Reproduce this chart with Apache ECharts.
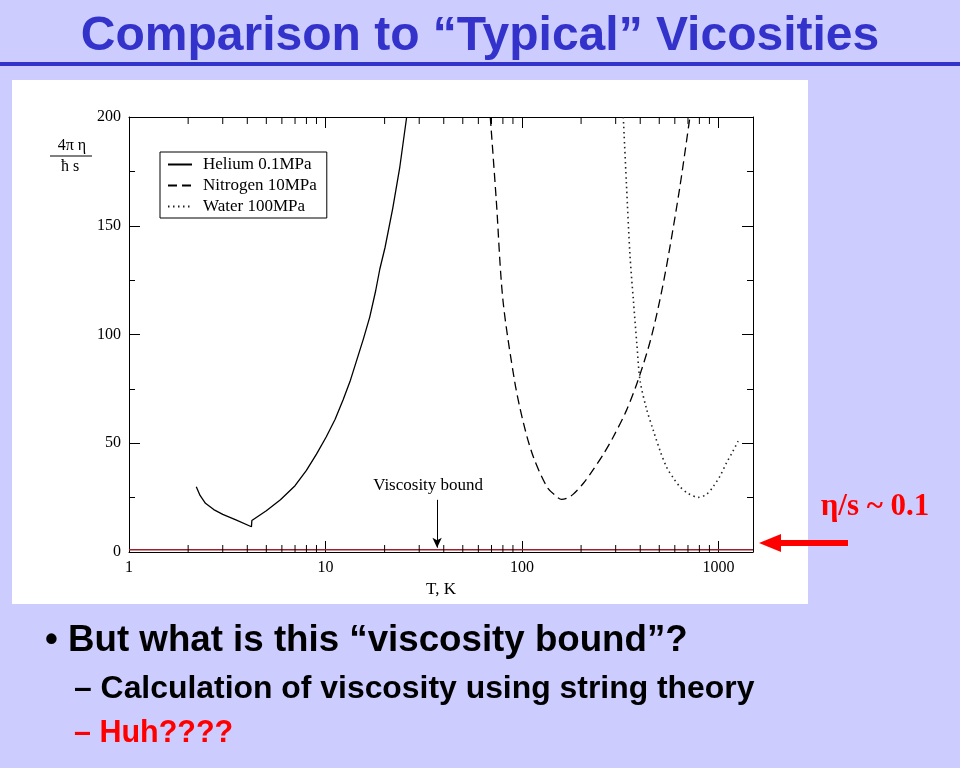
<!DOCTYPE html>
<html><head><meta charset="utf-8">
<script src="https://cdn.jsdelivr.net/npm/echarts@6/dist/echarts.min.js"></script>
<style>html,body{margin:0;padding:0;background:#CCCCFF}#c{width:960px;height:768px}</style>
</head><body><div id="c"></div>
<script>
// ---- data (T in K, value = 4*pi*eta/(hbar*s)) ----
const heliumT   = [2.2, 2.3, 2.45, 2.7, 3.0, 3.5, 4.2, 4.22, 5.0, 5.9, 7.0, 8.0, 9.0, 10.1, 11.2, 12.3, 13.4, 14.4, 15.6, 16.8, 18.0, 18.9, 20.1, 22.0, 23.9, 25.9];
const heliumV   = [30.0, 26.0, 22.4, 19.5, 17.3, 14.8, 11.6, 14.5, 19.0, 24.0, 30.5, 37.5, 45.0, 53.0, 61.0, 70.0, 79.0, 88.0, 98.0, 108.0, 120.0, 130.0, 140.0, 158.0, 177.0, 200.0];
const nitrogenT = [69, 74, 80, 92, 102, 114, 134, 150, 159, 170, 182, 205, 231, 260, 292, 340, 390, 450, 504, 556, 637, 716];
const nitrogenV = [200, 162, 116, 78, 59, 44, 30, 25.5, 24.2, 24.8, 26.5, 31.5, 38, 45, 53, 65, 79, 97, 116, 136, 168, 200];
const waterT    = [328, 340, 355, 369, 385, 399, 430, 466, 505, 545, 590, 637, 700, 790, 870, 940, 1020, 1100, 1180, 1260];
const waterV    = [200, 170, 136, 116, 95, 79, 66, 56, 46.5, 39, 34, 30, 27, 25.1, 26.5, 30, 35, 41, 46, 51];
const boundT    = [1, 1500];
const boundV    = [1, 1];
const seriesNames = ['Helium 0.1MPa', 'Nitrogen 10MPa', 'Water 100MPa'];
const minorTickT = [2,3,4,5,6,7,8,9,20,30,40,50,60,70,80,90,200,300,400,500,600,700,800,900];
const annotationText = 'Viscosity bound';
const annotationT = 37;
const annotationFrom = 24, annotationTo = 2;
const titleText = 'Comparison to \u201CTypical\u201D Vicosities';
const bullet1 = '\u2022 But what is this \u201Cviscosity bound\u201D?';
const bullet2 = '\u2013 Calculation of viscosity using string theory';
const bullet3 = '\u2013 Huh????';
const sideNote = '\u03B7/s ~ 0.1';

const zip = (a, b) => a.map((v, i) => [v, b[i]]);
const serif = 'Liberation Serif, Times New Roman, serif';
const sans = 'Liberation Sans, Arial, sans-serif';

const chart = echarts.init(document.getElementById('c'));
const xCommon = {
  type: 'log', logBase: 10, min: 1, max: 1500,
  splitLine: { show: false },
  axisLine: { show: true, onZero: false, lineStyle: { color: '#000', width: 1 } },
  axisTick: { show: true, inside: true, length: 11, lineStyle: { color: '#000' } },
  minorTick: { show: false }
};
const yCommon = {
  type: 'value', min: 0, max: 200, interval: 50,
  splitLine: { show: false },
  axisLine: { show: true, onZero: false, lineStyle: { color: '#000', width: 1 } },
  axisTick: { show: true, inside: true, length: 11, lineStyle: { color: '#000' } },
  minorTick: { show: true, splitNumber: 2, length: 6, lineStyle: { color: '#000' } }
};

chart.setOption({
  backgroundColor: '#CCCCFF',
  animation: false,
  grid: { left: 129, right: 207, top: 117, bottom: 216, show: false },
  legend: {
    data: seriesNames,
    orient: 'vertical', left: 160, top: 152,
    backgroundColor: '#fff', borderColor: '#000', borderWidth: 1,
    padding: [4, 10, 3, 7], itemGap: 4, itemWidth: 24, itemHeight: 14,
    itemStyle: { opacity: 0 },
    textStyle: { fontFamily: serif, fontSize: 17, color: '#000', padding: [0, 0, 0, 6] }
  },
  xAxis: [
    Object.assign({}, xCommon, {
      position: 'bottom',
      name: 'T, K', nameLocation: 'middle', nameGap: 27,
      nameTextStyle: { fontFamily: serif, fontSize: 17, color: '#000' },
      axisLabel: { fontFamily: serif, fontSize: 16, color: '#000', margin: 8, showMaxLabel: false,
                   formatter: v => String(v) }
    }),
    Object.assign({}, xCommon, { position: 'top', axisLabel: { show: false } })
  ],
  yAxis: [
    Object.assign({}, yCommon, {
      position: 'left',
      axisLabel: { fontFamily: serif, fontSize: 16, color: '#000', margin: 8 }
    }),
    Object.assign({}, yCommon, { position: 'right', axisLabel: { show: false } })
  ],
  series: [
    {
      name: seriesNames[0], type: 'line', data: zip(heliumT, heliumV),
      symbol: 'none', smooth: false,
      lineStyle: { color: '#000', width: 1.3, type: 'solid' }, itemStyle: { color: '#000' }
    },
    {
      name: seriesNames[1], type: 'line', data: zip(nitrogenT, nitrogenV),
      symbol: 'none', smooth: 0.3,
      lineStyle: { color: '#000', width: 1.3, type: [9, 5] }, itemStyle: { color: '#000' }
    },
    {
      name: seriesNames[2], type: 'line', data: zip(waterT, waterV),
      symbol: 'none', smooth: 0.3,
      lineStyle: { color: '#222', width: 1.6, type: [1.5, 3.5] }, itemStyle: { color: '#222' }
    },
    {
      name: 'bound', type: 'line', data: zip(boundT, boundV),
      symbol: 'none', z: 1,
      lineStyle: { color: '#A0202A', width: 1.5 },
      markLine: {
        silent: true, symbol: ['none', 'arrow'], symbolSize: [7, 10],
        lineStyle: { color: '#000', width: 1, type: 'solid' },
        label: { show: true, position: 'start', distance: 6, formatter: annotationText,
                 fontFamily: serif, fontSize: 17, color: '#000', padding: [0, 18, 0, 0] },
        data: [[{ coord: [annotationT, annotationFrom] }, { coord: [annotationT, annotationTo] }]]
      }
    },
    {
      name: 'minorTicks', type: 'custom', silent: true, clip: false,
      data: minorTickT.map(t => [t, 0]),
      renderItem: function (params, api) {
        const pb = api.coord([api.value(0), 0]);
        const pt = api.coord([api.value(0), 200]);
        const st = { stroke: '#000', lineWidth: 1 };
        return { type: 'group', children: [
          { type: 'line', shape: { x1: pb[0], y1: pb[1], x2: pb[0], y2: pb[1] - 7 }, style: st },
          { type: 'line', shape: { x1: pt[0], y1: pt[1], x2: pt[0], y2: pt[1] + 7 }, style: st }
        ] };
      }
    }
  ],
  graphic: [
    { type: 'rect', z: -10, shape: { x: 12, y: 80, width: 796, height: 524 }, style: { fill: '#fff' } },
    { type: 'text', x: 480, y: 37,
      style: { text: titleText, fontFamily: sans, fontWeight: 'bold', fontSize: 48, fill: '#3333CC',
               align: 'center', verticalAlign: 'middle' } },
    { type: 'rect', shape: { x: 0, y: 62, width: 960, height: 4 }, style: { fill: '#3333CC' } },
    // y-axis name as fraction
    { type: 'text', x: 72, y: 146, style: { text: '4\u03C0 \u03B7', fontFamily: serif, fontSize: 16, fill: '#000', align: 'center', verticalAlign: 'middle' } },
    { type: 'line', shape: { x1: 50, y1: 156, x2: 92, y2: 156 }, style: { stroke: '#000', lineWidth: 1 } },
    { type: 'text', x: 70, y: 167, style: { text: '\u0127 s', fontFamily: serif, fontSize: 16, fill: '#000', align: 'center', verticalAlign: 'middle' } },
    // side note and red arrow
    { type: 'text', x: 875, y: 507, style: { text: sideNote, fontFamily: serif, fontWeight: 'bold', fontSize: 31, fill: '#FF0000', align: 'center', verticalAlign: 'middle' } },
    { type: 'rect', shape: { x: 778, y: 540, width: 70, height: 6 }, style: { fill: '#FF0000' } },
    { type: 'polygon', shape: { points: [[759, 543], [781, 534], [781, 552]] }, style: { fill: '#FF0000' } },
    // bullets
    { type: 'text', x: 45, y: 641,
      style: { text: bullet1, fontFamily: sans, fontWeight: 'bold', fontSize: 36.7, fill: '#000', verticalAlign: 'middle' } },
    { type: 'text', x: 74, y: 689,
      style: { text: bullet2, fontFamily: sans, fontWeight: 'bold', fontSize: 31.9, fill: '#000', verticalAlign: 'middle' } },
    { type: 'text', x: 74, y: 734,
      style: { text: bullet3, fontFamily: sans, fontWeight: 'bold', fontSize: 30.5, fill: '#FF0000', verticalAlign: 'middle' } }
  ]
});
</script></body></html>
